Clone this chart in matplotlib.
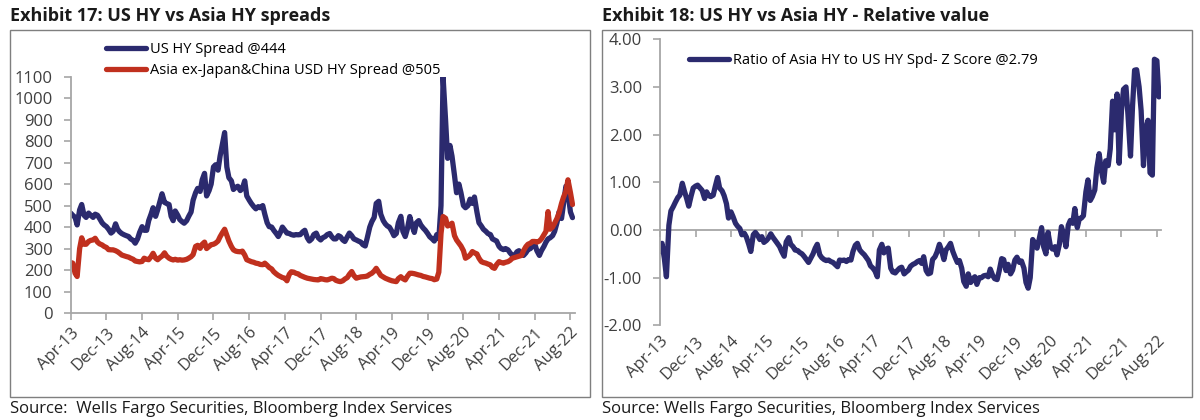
"""
Exhibit 17 / 18 – US HY vs Asia HY spreads and relative value z-score.
"""

import pandas as pd
import matplotlib
matplotlib.use("Agg")
import matplotlib.pyplot as plt
from matplotlib.patches import Rectangle
from matplotlib.ticker import FormatStrFormatter

NAVY = "#2b2a6e"
RED = "#c0301e"
GREY = "#a6a6a6"
LABEL = "#3f3f3f"
FONT = "Open Sans"
LW = 3.8

W, H = 1200, 420

tick_labels = ["Apr-13", "Dec-13", "Aug-14", "Apr-15", "Dec-15", "Aug-16", "Apr-17",
               "Dec-17", "Aug-18", "Apr-19", "Dec-19", "Aug-20", "Apr-21", "Dec-21",
               "Aug-22"]

# semi-monthly readings (1st and 15th of month), Apr-2013 .. Aug-2022
us_hy = [
    465, 455, 445, 410, 480, 505, 455, 445, 465, 455, 445, 460, 455, 440, 420, 410, 402, 390,
    372, 380, 415, 390, 378, 370, 364, 360, 356, 345, 338, 325, 345, 375, 402, 385, 385, 430, 460, 490, 450, 480, 520, 555,
    515, 510, 505, 450, 430, 475, 455, 435, 425, 418, 430, 450, 470, 525, 560, 580, 566, 620, 650, 545, 570, 600, 680, 690,
    665, 730, 790, 840, 680, 630, 615, 575, 585, 590, 570, 580, 615, 545, 525, 510, 495, 485, 495, 490, 500, 460, 420, 402,
    400, 385, 370, 356, 375, 400, 385, 372, 370, 365, 362, 365, 364, 365, 378, 385, 350, 335, 345, 365, 372, 350, 340, 350,
    356, 365, 370, 355, 345, 345, 360, 355, 340, 333, 355, 372, 360, 345, 340, 335, 330, 318, 312, 350, 400, 425, 445, 510,
    520, 460, 430, 415, 405, 400, 380, 360, 370, 420, 450, 380, 356, 390, 449, 410, 375, 420, 430, 410, 395, 385, 370, 355,
    345, 335, 365, 345, 500, 1100, 900, 720, 780, 730, 640, 560, 600, 560, 500, 490, 500, 530, 510, 540, 470, 420, 405, 390,
    380, 370, 365, 345, 340, 335, 310, 300, 295, 300, 294, 280, 268, 265, 285, 290, 275, 268, 280, 295, 300, 312, 320, 290,
    268, 290, 310, 330, 345, 350, 360, 380, 420, 470, 440, 510, 590, 560, 470, 444,
]

asia_hy = [
    235, 232, 185, 170, 300, 350, 320, 320, 333, 338, 340, 348, 330, 322, 317, 310, 305, 295,
    294, 294, 290, 285, 278, 270, 266, 263, 260, 255, 250, 242, 240, 238, 240, 255, 250, 248, 262, 278, 255, 248, 258, 265,
    280, 265, 255, 250, 247, 250, 246, 248, 246, 247, 250, 255, 262, 272, 310, 315, 301, 320, 330, 300, 310, 318, 320, 325,
    335, 355, 375, 390, 362, 335, 310, 294, 288, 286, 285, 288, 270, 248, 243, 239, 236, 232, 230, 226, 225, 232, 222, 212,
    205, 192, 182, 175, 170, 165, 162, 150, 180, 192, 190, 185, 182, 175, 170, 166, 162, 160, 158, 156, 155, 154, 160, 158,
    155, 154, 158, 162, 160, 152, 148, 146, 150, 158, 165, 180, 193, 175, 162, 165, 168, 169, 170, 172, 180, 185, 195, 208,
    190, 175, 168, 162, 158, 154, 150, 148, 146, 160, 169, 160, 154, 170, 185, 185, 183, 180, 177, 175, 170, 168, 165, 162,
    160, 155, 158, 190, 370, 449, 441, 405, 410, 418, 360, 340, 325, 312, 290, 255, 262, 270, 286, 280, 275, 255, 239, 235,
    232, 228, 224, 212, 208, 225, 239, 235, 232, 236, 239, 245, 255, 258, 262, 265, 268, 290, 309, 320, 325, 333, 333, 330,
    335, 345, 364, 380, 472, 390, 400, 418, 440, 465, 510, 540, 566, 620, 560, 505,
]

z_score = [
    -0.45, -0.28, -0.60, -0.98, 0.10, 0.40, 0.49, 0.58, 0.68, 0.73, 0.98, 0.82, 0.66, 0.50, 0.72, 0.88, 0.92, 0.94,
    0.88, 0.83, 0.66, 0.80, 0.72, 0.70, 0.73, 0.91, 1.10, 0.88, 0.82, 0.72, 0.55, 0.25, 0.38, 0.28, 0.14, 0.08, 0.03, -0.10, -0.07, -0.15, -0.30, -0.45,
    -0.10, -0.05, -0.12, -0.20, -0.14, -0.26, -0.22, -0.17, -0.08, -0.15, -0.22, -0.28, -0.35, -0.45, -0.55, -0.25, -0.16, -0.30, -0.35, -0.42, -0.43, -0.47, -0.50, -0.55,
    -0.62, -0.68, -0.58, -0.50, -0.38, -0.30, -0.52, -0.58, -0.62, -0.64, -0.63, -0.66, -0.68, -0.72, -0.77, -0.63, -0.64, -0.63, -0.66, -0.62, -0.63, -0.45, -0.32, -0.28,
    -0.42, -0.47, -0.52, -0.58, -0.64, -0.75, -0.80, -0.86, -0.98, -0.42, -0.30, -0.48, -0.40, -0.38, -0.80, -0.88, -0.90, -0.85, -0.80, -0.78, -0.92, -0.88, -0.84, -0.76,
    -0.72, -0.70, -0.66, -0.64, -0.70, -0.56, -0.85, -0.92, -0.90, -0.62, -0.56, -0.46, -0.30, -0.42, -0.62, -0.42, -0.35, -0.28, -0.45, -0.56, -0.68, -0.64, -0.80, -1.08,
    -1.18, -0.92, -1.10, -1.02, -0.98, -1.14, -1.00, -1.00, -0.96, -0.95, -0.98, -0.82, -0.95, -1.02, -1.04, -0.86, -0.60, -0.62, -0.85, -0.72, -0.92, -0.84, -0.63, -0.57,
    -0.68, -0.65, -0.80, -1.10, -1.22, -1.00, -0.20, -0.28, -0.38, -0.20, 0.05, -0.35, -0.50, -0.05, -0.35, -0.40, -0.35, -0.52, -0.30, 0.07, -0.10, -0.35, 0.10, 0.20,
    0.14, 0.45, 0.05, 0.24, 0.25, 0.30, 0.80, 1.05, 0.62, 0.70, 0.84, 1.30, 1.60, 1.26, 1.00, 1.45, 1.35, 1.70, 2.70, 2.10, 2.85, 1.40, 2.50, 2.95,
    3.00, 2.40, 1.55, 2.60, 3.35, 3.36, 3.00, 2.50, 1.35, 2.10, 2.30, 1.20, 1.15, 3.58, 3.55, 2.79,
]

dates = pd.date_range("2013-04-01", periods=len(us_hy), freq="SMS")
tick_dates = pd.to_datetime(tick_labels, format="%b-%y")
x_start, x_end = pd.Timestamp("2013-04-01"), pd.Timestamp("2022-09-01")

plt.rcParams["font.family"] = [FONT, "DejaVu Sans"]


def px_axes(fig, left, top, right, bottom):
    return fig.add_axes([left / W, 1 - bottom / H, (right - left) / W, (bottom - top) / H])


def style_axis(ax):
    for side in ("top", "right"):
        ax.spines[side].set_visible(False)
    for side in ("left", "bottom"):
        ax.spines[side].set_color(GREY)
        ax.spines[side].set_linewidth(1.3)
    ax.tick_params(colors=GREY, labelcolor=LABEL, labelsize=12, length=5, width=1.2)
    ax.tick_params(axis="y", pad=8)
    ax.set_xlim(x_start, x_end)
    ax.set_xticks(tick_dates)
    ax.set_xticklabels(tick_labels, rotation=45, ha="right", va="top",
                       rotation_mode="anchor")


def draw_series(ax, values, color, label):
    ax.plot(dates, values, color=color, lw=LW, solid_joinstyle="round",
            solid_capstyle="round", label=label)


fig = plt.figure(figsize=(W / 100, H / 100), dpi=100)

# frames + titles
for x0, x1 in ((10, 590), (602, 1192)):
    fig.add_artist(Rectangle((x0 / W, 1 - 397 / H), (x1 - x0) / W, 367 / H,
                             transform=fig.transFigure, fill=False,
                             edgecolor="#7f7f7f", linewidth=1.0))
fig.text(10 / W, 1 - 16 / H, "Exhibit 17: US HY vs Asia HY spreads",
         fontsize=13, weight="bold", color="#1a1a1a", va="center")
fig.text(602 / W, 1 - 16 / H, "Exhibit 18: US HY vs Asia HY - Relative value",
         fontsize=13, weight="bold", color="#1a1a1a", va="center")
fig.text(10 / W, 1 - 409 / H, "Source:  Wells Fargo Securities, Bloomberg Index Services",
         fontsize=12, color="#1a1a1a", va="center")
fig.text(602 / W, 1 - 409 / H, "Source: Wells Fargo Securities, Bloomberg Index Services",
         fontsize=12, color="#1a1a1a", va="center")

# left: spreads
ax1 = px_axes(fig, 70.7, 76.7, 575, 313)
style_axis(ax1)
draw_series(ax1, us_hy, NAVY, "US HY Spread @444")
draw_series(ax1, asia_hy, RED, "Asia ex-Japan&China USD HY Spread @505")
ax1.set_ylim(0, 1100)
ax1.set_yticks(range(0, 1101, 100))
ax1.legend(loc="upper left", bbox_to_anchor=(106 / W, 1 - 42 / H),
           bbox_transform=fig.transFigure, frameon=False, fontsize=10.5,
           handlelength=2.75, handletextpad=0.25, borderpad=0, borderaxespad=0,
           labelspacing=0.4)

# right: z-score
ax2 = px_axes(fig, 660, 39.2, 1161.4, 325.4)
style_axis(ax2)
draw_series(ax2, z_score, NAVY, "Ratio of Asia HY to US HY Spd- Z Score @2.79")
ax2.set_ylim(-2, 4)
ax2.set_yticks(range(-2, 5))
ax2.yaxis.set_major_formatter(FormatStrFormatter("%.2f"))
ax2.spines["bottom"].set_visible(False)
ax2.tick_params(axis="x", length=0, pad=6)
zero_axis = ax2.secondary_xaxis(2 / 6)
zero_axis.spines["bottom"].set_color(GREY)
zero_axis.spines["bottom"].set_linewidth(1.3)
zero_axis.set_xticks(tick_dates)
zero_axis.set_xticklabels([])
zero_axis.tick_params(colors=GREY, length=5, width=1.2)
ax2.legend(loc="upper left", bbox_to_anchor=(689 / W, 1 - 53 / H),
           bbox_transform=fig.transFigure, frameon=False, fontsize=10.5,
           handlelength=2.75, handletextpad=0.25, borderpad=0, borderaxespad=0)

fig.savefig("out.png", dpi=100)
